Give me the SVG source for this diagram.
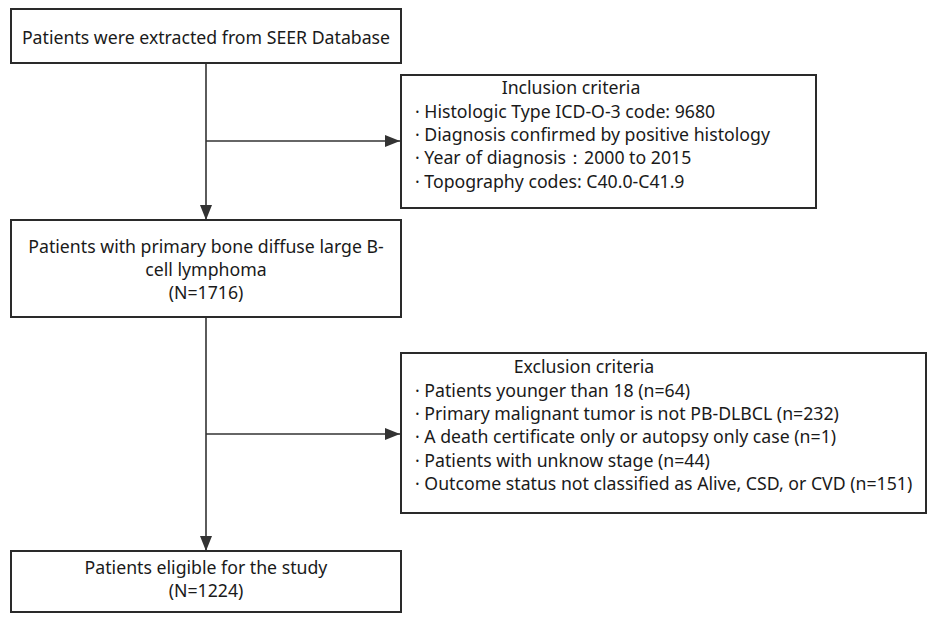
<svg xmlns="http://www.w3.org/2000/svg" width="935" height="621" viewBox="0 0 935 621">
<defs>
<marker id="arr" markerWidth="15" markerHeight="12" refX="15" refY="6" orient="auto" markerUnits="userSpaceOnUse">
<path d="M0,0 L15,6 L0,12 Z" fill="#333"/>
</marker>
<style>
.box{fill:#fff;stroke:#2a2a2a;stroke-width:2}
.t{font-family:"Noto Sans","Open Sans","DejaVu Sans",sans-serif;font-size:17.7px;fill:#1a1a1a}
.c{text-anchor:middle}
.ln{stroke:#333;stroke-width:1.6;fill:none}
</style>
</defs>
<rect width="935" height="621" fill="#fff"/>
<g id="connectors">
<line class="ln" x1="206" y1="63" x2="206" y2="220" marker-end="url(#arr)"/>
<line class="ln" x1="206" y1="141" x2="400" y2="141" marker-end="url(#arr)"/>
<line class="ln" x1="206" y1="317" x2="206" y2="551" marker-end="url(#arr)"/>
<line class="ln" x1="206" y1="434" x2="400" y2="434" marker-end="url(#arr)"/>
</g>
<g id="n-seer">
<rect class="box" x="11" y="9" width="390" height="54"/>
<text class="t c" x="206" y="44">Patients were extracted from SEER Database</text>
</g>
<g id="n-inclusion">
<rect class="box" x="401" y="75" width="415" height="133"/>
<text class="t c" x="571" y="94">Inclusion criteria</text>
<text class="t" x="415" y="118">· Histologic Type ICD-O-3 code: 9680</text>
<text class="t" x="415" y="141">· Diagnosis confirmed by positive histology</text>
<text class="t" x="415" y="164">· Year of diagnosis：2000 to 2015</text>
<text class="t" x="415" y="188">· Topography codes: C40.0-C41.9</text>
</g>
<g id="n-pbdlbcl">
<rect class="box" x="11" y="220" width="390" height="97"/>
<text class="t c" x="206" y="253">Patients with primary bone diffuse large B-</text>
<text class="t c" x="206" y="276">cell lymphoma</text>
<text class="t c" x="206" y="299">(N=1716)</text>
</g>
<g id="n-exclusion">
<rect class="box" x="401" y="353" width="525" height="160"/>
<text class="t c" x="584" y="373">Exclusion criteria</text>
<text class="t" x="415" y="397">· Patients younger than 18 (n=64)</text>
<text class="t" x="415" y="420">· Primary malignant tumor is not PB-DLBCL (n=232)</text>
<text class="t" x="415" y="443">· A death certificate only or autopsy only case (n=1)</text>
<text class="t" x="415" y="467">· Patients with unknow stage (n=44)</text>
<text class="t" x="415" y="490">· Outcome status not classified as Alive, CSD, or CVD (n=151)</text>
</g>
<g id="n-eligible">
<rect class="box" x="11" y="551" width="390" height="61"/>
<text class="t c" x="206" y="574">Patients eligible for the study</text>
<text class="t c" x="206" y="597">(N=1224)</text>
</g>
</svg>
